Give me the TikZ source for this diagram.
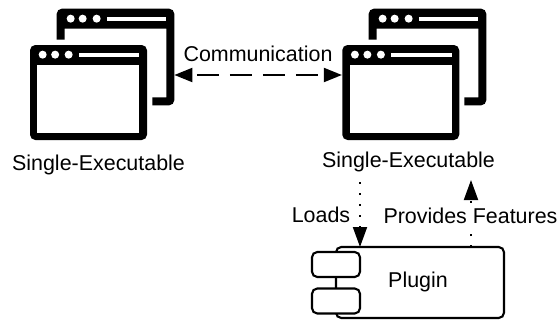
\documentclass[tikz,border=0pt]{standalone}
\usepackage{fontspec}
\setmainfont{Liberation Sans}
\usetikzlibrary{arrows.meta}
\tikzset{
  label/.style={inner sep=0pt,font=\fontsize{12.2}{14}\selectfont},
  winbody/.style={draw=none,fill=black,rounded corners=3pt,minimum width=2.34cm,minimum height=1.9cm,inner sep=0pt},
  port/.style={draw,fill=white,line width=1.2pt,rounded corners=3pt,minimum width=0.96cm,minimum height=0.5cm,inner sep=0pt},
  commarrow/.style={line width=1.1pt,{Triangle[length=0.36cm,width=0.28cm]}-{Triangle[length=0.36cm,width=0.28cm]},dash pattern=on 0.44cm off 0.22cm,dash phase=0.56cm},
  dotarrow/.style={line width=1.1pt,-{Triangle[length=0.4cm,width=0.28cm]},dash pattern=on 1.1pt off 5.16pt},
}
% one application window, front view
\newcommand{\frontwin}[2]{
\node[winbody] (#2) at (#1) {};
\fill[white] ([shift={(-2.2,-0.4)}]#2.north east) rectangle ([shift={(-0.16,0.14)}]#2.south east); % pane
\foreach \x in {0.26,0.51,0.78} \fill[white] ([shift={(\x,-0.2)}]#2.north west) circle (0.08);
\fill[white] ([shift={(0.99,-0.16)}]#2.north west) rectangle ([shift={(-0.16,-0.24)}]#2.north east);
}
% the window behind it, only its open outline
\newcommand{\backwin}[2]{
\node[minimum width=2.34cm,minimum height=1.92cm,inner sep=0pt] (#2) at (#1) {};
\fill[black] ([yshift=-0.62cm]#2.north west) [rounded corners=3pt] -- (#2.north west) -- (#2.north east) -- (#2.south east) [sharp corners] -- ([xshift=-0.44cm]#2.south east) -- ([shift={(-0.44,0.16)}]#2.south east) -- ([shift={(-0.16,0.16)}]#2.south east) -- ([shift={(-0.16,-0.4)}]#2.north east) -- ([shift={(0.16,-0.4)}]#2.north west) -- ([shift={(0.16,-0.62)}]#2.north west) -- cycle;
\foreach \x in {0.28,0.52,0.8} \fill[white] ([shift={(\x,-0.2)}]#2.north west) circle (0.08);
\fill[white] ([shift={(1.0,-0.16)}]#2.north west) rectangle ([shift={(-0.16,-0.24)}]#2.north east);
}
\begin{document}
\begin{tikzpicture}[x=1cm,y=1cm]
\useasboundingbox (0,0) rectangle (11.16,6.4);

\backwin{2.31,5.26}{backA}
\frontwin{1.77,4.55}{frontA}
\backwin{8.55,5.26}{backB}
\frontwin{8.015,4.55}{frontB}

\node[label] (execA) at (1.97,3.11) {Single-Executable};
\node[label] (execB) at (8.17,3.17) {Single-Executable};
\node[label] (comm) at (5.16,5.32) {Communication};

\node[draw,line width=1.2pt,rounded corners=3pt,minimum width=3.36cm,minimum height=1.42cm,inner sep=0pt] (plugin) at (8.40,0.75) {};
\node[label] at (8.36,0.77) (pluginlabel) {Plugin};
\node[port] (portA) at (6.72,1.11) {};
\node[port] (portB) at (6.72,0.38) {};

\coordinate (commleft) at (backA.east |- 0,4.9);
\coordinate (commright) at (frontB.west |- 0,4.9);
\draw[commarrow] (commleft) -- (commright);

% dotted ones, the labels sit on top of them
\coordinate (loadstop) at (7.2,2.76);
\coordinate (loadsend) at (7.2,1.46);
\draw[dotarrow] (loadstop) -- (loadsend);
\coordinate (featstart) at (9.42,1.46);
\coordinate (featend) at (9.42,2.8);
\draw[dotarrow] (featstart) -- (featend);

\node[label,fill=white,inner sep=1pt] (loads) at (6.42,2.11) {Loads};
\node[label,fill=white,inner sep=1pt] (features) at (9.41,2.09) {Provides Features};
\end{tikzpicture}
\end{document}
